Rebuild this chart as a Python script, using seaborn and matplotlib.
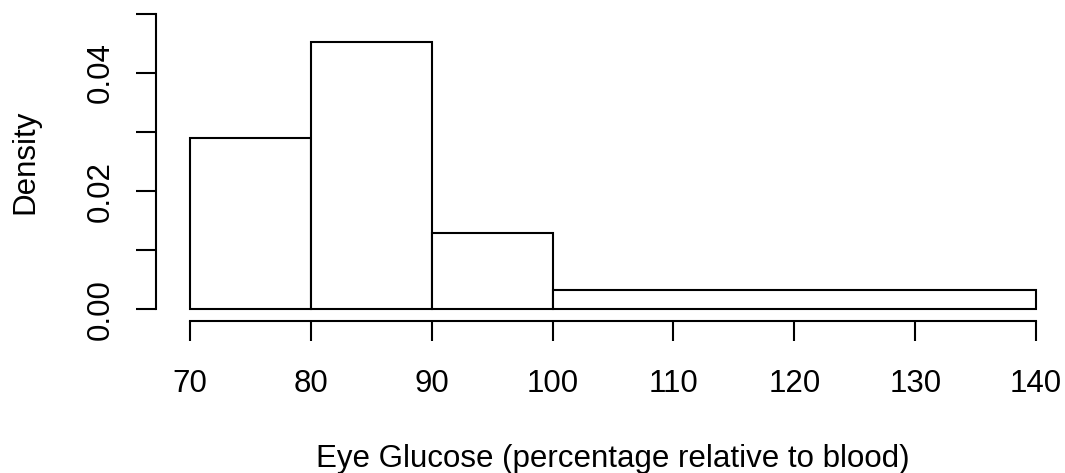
import numpy as np
import pandas as pd
import matplotlib
matplotlib.use("Agg")
import matplotlib.pyplot as plt
import seaborn as sns

# Data (histogram of eye glucose, percentage relative to blood)
bin_edges = [70, 80, 90, 100, 140]
bin_counts = [9, 14, 4, 4]
bin_mids = [75, 85, 95, 120]
x_ticks = [70, 80, 90, 100, 110, 120, 130, 140]
y_ticks = [0.00, 0.01, 0.02, 0.03, 0.04, 0.05]
y_tick_labels = ["0.00", "", "0.02", "", "0.04", ""]
x_label = "Eye Glucose (percentage relative to blood)"
y_label = "Density"

sns.set_theme(style="white")
plt.rcParams["font.family"] = ["Liberation Sans", "DejaVu Sans"]

FS = 22.5
W, H = 1065, 473
fig = plt.figure(figsize=(W / 100, H / 100), dpi=100)
# R plot region in pixels: x 156..1070, y 2..321
ax = fig.add_axes([156 / W, (H - 321) / H, 914 / W, 319 / H])

df = pd.DataFrame({"glucose": bin_mids, "n": bin_counts})
sns.histplot(data=df, x="glucose", weights="n", bins=bin_edges, stat="density",
             facecolor="white", edgecolor="black", linewidth=1.5, alpha=1,
             ax=ax)

ax.set_xlim(67.2, 142.8)
ax.set_ylim(-0.002, 0.052)

for s in ["top", "right"]:
    ax.spines[s].set_visible(False)
for s in ["left", "bottom"]:
    ax.spines[s].set_color("black")
    ax.spines[s].set_linewidth(1.5)
ax.spines["left"].set_bounds(0, 0.05)
ax.spines["bottom"].set_bounds(70, 140)

ax.set_xticks(x_ticks)
ax.set_xticklabels([str(v) for v in x_ticks])
ax.set_yticks(y_ticks)
ax.set_yticklabels(y_tick_labels, rotation=90, va="center")
ax.tick_params(axis="both", direction="out", length=14.4, width=1.5,
               color="black", labelsize=FS, labelcolor="black")
ax.tick_params(axis="x", pad=20)
ax.tick_params(axis="y", pad=14.5)
ax.xaxis.set_ticks_position("bottom")
ax.yaxis.set_ticks_position("left")
ax.set_xlabel("")
ax.set_ylabel("")
ax.grid(False)

fig.text(612.5 / W, (H - 467) / H, x_label, ha="center", va="baseline",
         fontsize=FS, color="black")
fig.text(40 / W, (H - 162) / H, y_label, ha="right", va="center",
         rotation=90, fontsize=FS, color="black")

fig.savefig("out.png", dpi=100, facecolor="white")
